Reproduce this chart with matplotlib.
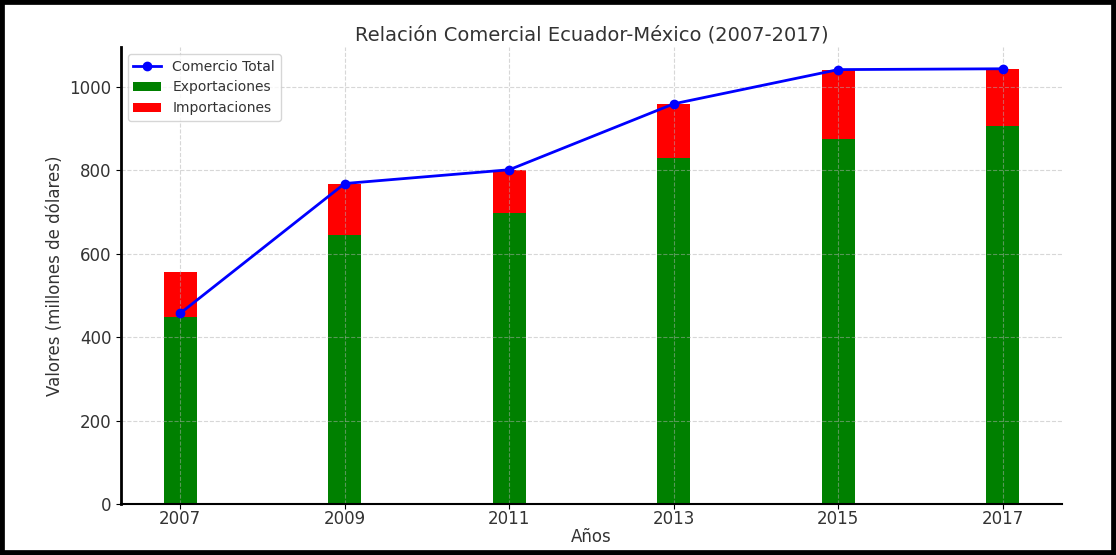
import matplotlib
matplotlib.use("Agg")
import matplotlib.pyplot as plt
from matplotlib.patches import Rectangle

# datos
years = [2007, 2009, 2011, 2013, 2015, 2017]
exportaciones = [448, 644, 698, 829, 875, 905]
importaciones = [107, 124, 102, 130, 166, 138]
comercio_total = [457, 768, 801, 959, 1041, 1043]

txt = '#333333'

fig = plt.figure(figsize=(11.16, 5.55), dpi=100)
ax = fig.add_axes([0.1084, 0.0919, 0.8432, 0.8234])

ax.bar(years, exportaciones, width=0.4, color='green', label='Exportaciones')
ax.bar(years, importaciones, width=0.4, bottom=exportaciones, color='red', label='Importaciones')
ax.plot(years, comercio_total, color='blue', marker='o', markersize=6, linewidth=2, label='Comercio Total')

ax.set_title('Relación Comercial Ecuador-México (2007-2017)', fontsize=14, color=txt, pad=5)
ax.set_xlabel('Años', fontsize=12, color=txt, labelpad=0)
ax.set_ylabel('Valores (millones de dólares)', fontsize=12, color=txt)
ax.set_xticks(years)
ax.tick_params(labelsize=12, colors=txt)
ax.tick_params(axis='both', color='black')
ax.tick_params(axis='x', pad=1)
ax.grid(True, linestyle='--', alpha=0.5)

ax.spines['top'].set_visible(False)
ax.spines['right'].set_visible(False)
ax.spines['left'].set_linewidth(2)
ax.spines['bottom'].set_linewidth(1.5)

leg = ax.legend(loc='upper left', fontsize=10)
for t in leg.get_texts():
    t.set_color(txt)

# marco negro alrededor de la imagen
fig.patches.append(Rectangle((0, 0), 1, 1, transform=fig.transFigure,
                             fill=False, edgecolor='black', linewidth=7))

fig.savefig('out.png', dpi=100)
